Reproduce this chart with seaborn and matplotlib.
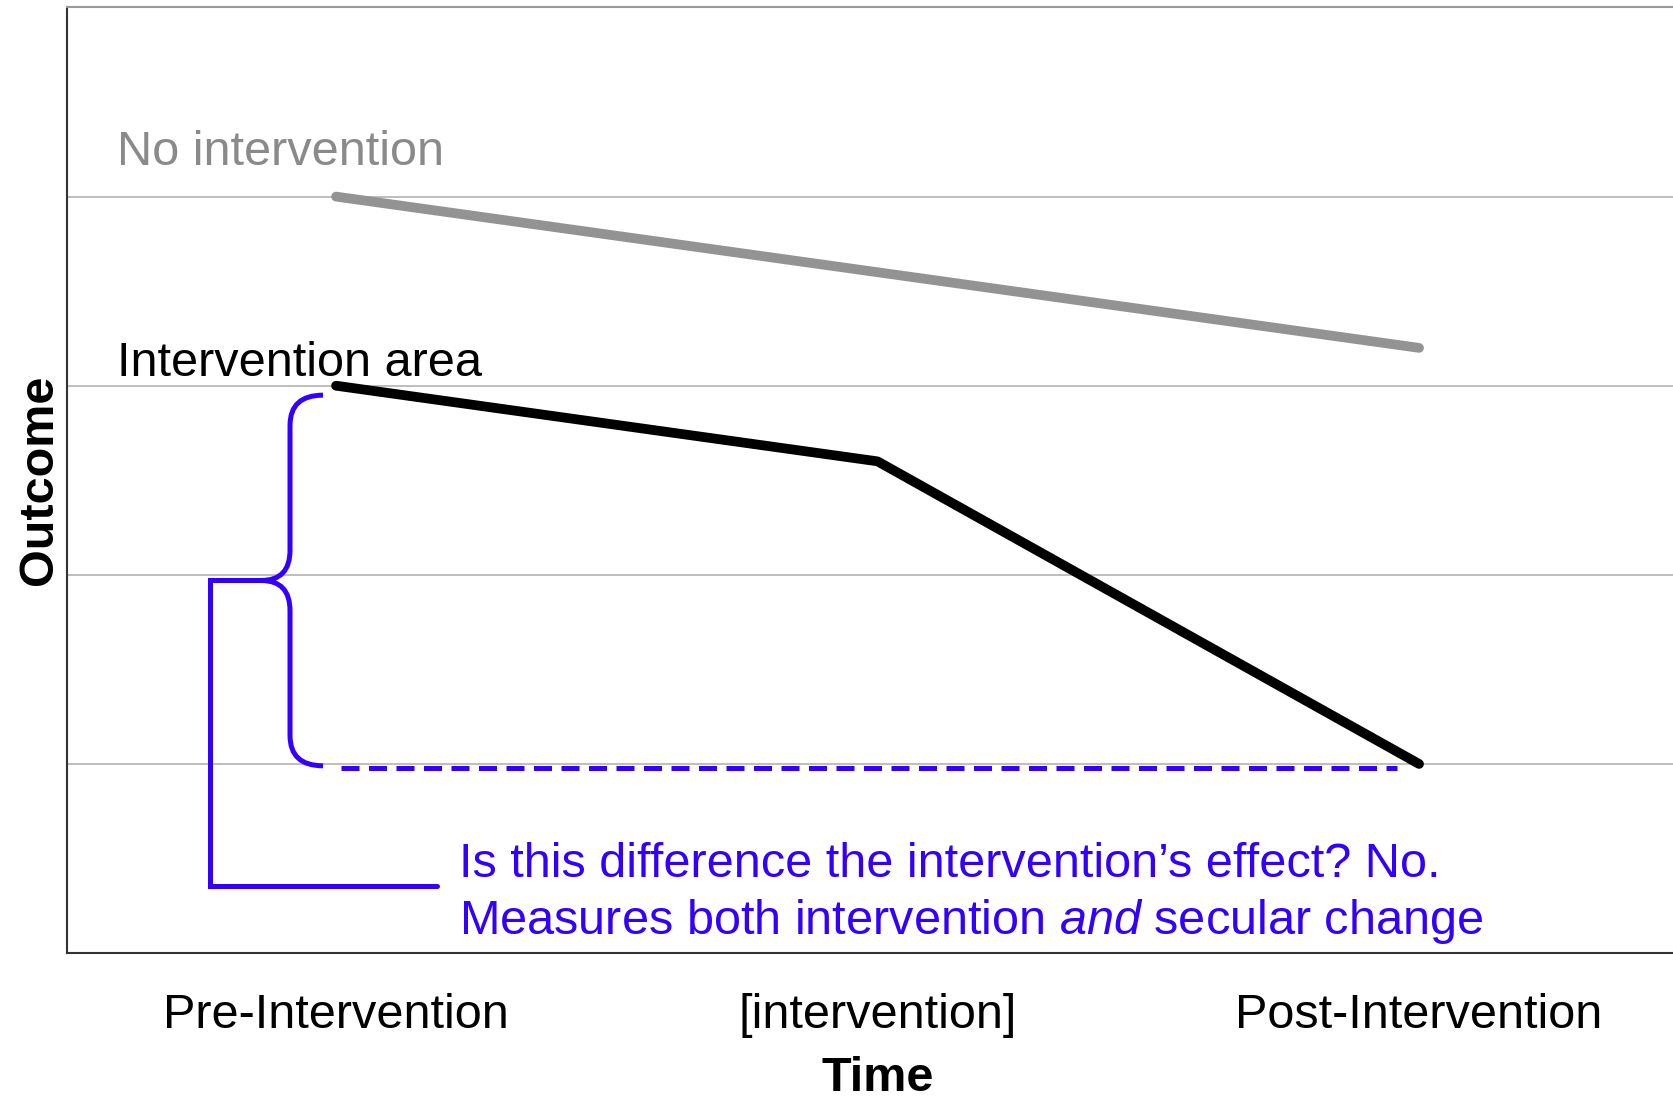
import numpy as np
import pandas as pd
import matplotlib.pyplot as plt
import seaborn as sns
from matplotlib.path import Path
from matplotlib.patches import PathPatch

sns.set_style("white")
plt.rcParams["font.family"] = ["Liberation Sans", "DejaVu Sans"]
plt.rcParams["mathtext.fontset"] = "custom"
plt.rcParams["mathtext.rm"] = "Liberation Sans"
plt.rcParams["mathtext.it"] = "Liberation Sans:italic"
plt.rcParams["text.color"] = "black"
plt.rcParams["axes.labelcolor"] = "black"
plt.rcParams["xtick.color"] = "black"

# ---------------------------------------------------------------
# DATA
# ---------------------------------------------------------------
time_labels = ["Pre-Intervention", "[intervention]", "Post-Intervention"]
time_pos = [0, 1, 2]

no_int_time = [0, 2]
no_int_outcome = [4.0, 3.2]

int_time = [0, 1, 2]
int_outcome = [3.0, 2.6, 1.0]

grid_levels = [1, 2, 3, 4]

df = pd.concat([
    pd.DataFrame({"time": no_int_time, "outcome": no_int_outcome, "group": "No intervention"}),
    pd.DataFrame({"time": int_time, "outcome": int_outcome, "group": "Intervention area"}),
])

BLUE = "#3300ff"
GRAY = "#939393"
FS = 35

# ---------------------------------------------------------------
# PLOT
# ---------------------------------------------------------------
fig = plt.figure(figsize=(16.73, 11), dpi=100)
ax = fig.add_axes([0.040, 0.1336, 0.96, 0.8596])

sns.lineplot(data=df, x="time", y="outcome", hue="group",
             palette={"No intervention": GRAY, "Intervention area": "black"},
             lw=7, solid_capstyle="round", legend=False, ax=ax)

xlim = (-0.497, 2.469)
ax.set_xlim(*xlim)
ax.set_ylim(0, 5)
ax.set_xticks(time_pos)
ax.set_xticklabels(time_labels, fontsize=FS)
ax.set_yticks(grid_levels)
ax.set_yticklabels([])
ax.tick_params(length=0)
ax.tick_params(axis="x", pad=29)
ax.yaxis.grid(True, color="#b3b3b3", lw=1.2)
ax.set_xlabel("Time", fontsize=FS, fontweight="bold", labelpad=13)
# "Time" sits under the intervention tick rather than the axes centre
ax.xaxis.label.set_x((time_pos[1] - xlim[0]) / (xlim[1] - xlim[0]))
ax.set_ylabel("Outcome", fontsize=FS, fontweight="bold", labelpad=0)

ax.spines["right"].set_visible(False)
ax.spines["top"].set_color("#9a9a9a")
ax.spines["left"].set_color("#333333")
ax.spines["bottom"].set_color("#333333")
for s in ["top", "left", "bottom"]:
    ax.spines[s].set_linewidth(1.5)

# series labels
ax.text(time_pos[0] - 0.404, no_int_outcome[0] + 0.165, "No intervention",
        color="#8a8a8a", fontsize=FS, va="baseline")
ax.text(time_pos[0] - 0.404, int_outcome[0] + 0.053, "Intervention area",
        color="black", fontsize=FS, va="baseline")

# dashed reference from post value back to pre
ax.plot([time_pos[0] + 0.01, time_pos[-1] - 0.04], [int_outcome[-1] - 0.024] * 2,
        color=BLUE, lw=3.6, dashes=(3.6, 1.9))

# curly brace spanning pre -> post difference
top = int_outcome[0] - 0.05
bot = int_outcome[-1] - 0.01
mid = (top + bot) / 2
stem, tip, end = -0.085, -0.138, -0.024
ry = 0.16
verts = [
    (end, top), (stem, top), (stem, top - ry),
    (stem, mid + ry), (stem, mid), (tip, mid),
    (stem, mid), (stem, mid - ry),
    (stem, bot + ry), (stem, bot), (end, bot),
]
codes = [Path.MOVETO, Path.CURVE3, Path.CURVE3,
         Path.LINETO, Path.CURVE3, Path.CURVE3,
         Path.CURVE3, Path.CURVE3,
         Path.LINETO, Path.CURVE3, Path.CURVE3]
ax.add_patch(PathPatch(Path(verts, codes), fill=False, edgecolor=BLUE, lw=3.6,
                       capstyle="butt", joinstyle="round"))

# bracket leading to the question
note_y = 0.356
ax.plot([tip, -0.2325, -0.2325, 0.187], [mid, mid, note_y, note_y],
        color=BLUE, lw=3.6, solid_joinstyle="miter")

ax.text(0.227, 0.40, "Is this difference the intervention\u2019s effect? No.",
        color=BLUE, fontsize=FS, va="baseline")
ax.text(0.227, 0.10, r"Measures both intervention $\mathit{and}$ secular change",
        color=BLUE, fontsize=FS, va="baseline")

plt.savefig("out.png", dpi=100)
plt.close()
